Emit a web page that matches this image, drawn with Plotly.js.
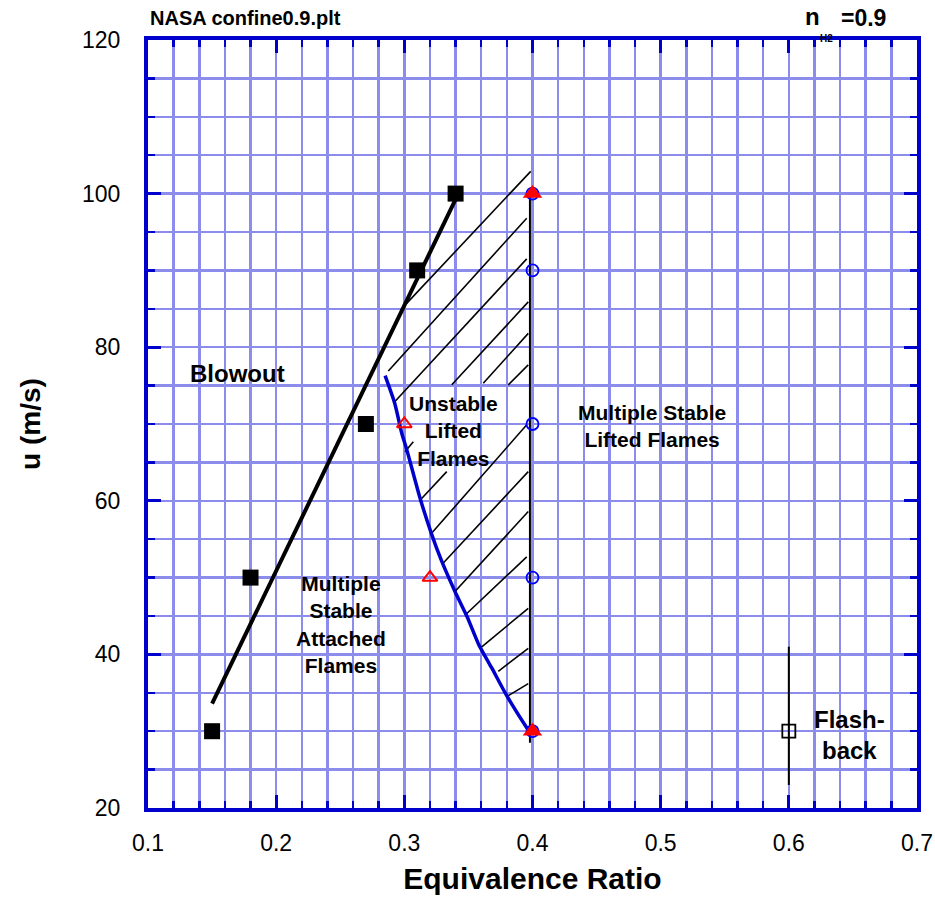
<!DOCTYPE html>
<html>
<head>
<meta charset="utf-8">
<script src="https://cdn.plot.ly/plotly-3.0.1.min.js"></script>
<style>html,body{margin:0;padding:0;background:#fff;}#chart{width:935px;height:923px;}</style>
</head>
<body>
<div id="chart"></div>
<script>
// Blowout measurements (filled black squares)
const blowoutPhi = [0.15, 0.18, 0.27, 0.31, 0.34];
const blowoutU = [30, 50, 70, 90, 100];
// Blowout boundary fit line
const blowFitPhi = [0.150, 0.245, 0.341];
const blowFitU = [33.6, 66.4, 99.6];
// Lift-off boundary (blue curve)
const liftPhi = [0.285, 0.2925, 0.298, 0.302, 0.312, 0.321, 0.329, 0.3395, 0.349, 0.358, 0.368, 0.380, 0.3965, 0.399];
const liftU = [76.3, 72.7, 68.8, 66.6, 60.5, 55.8, 52.2, 48.2, 44.9, 41.3, 38.3, 34.6, 30.2, 29.6];
// Stable lifted flame points (open blue circles)
const liftedPhi = [0.4, 0.4, 0.4, 0.4, 0.4];
const liftedU = [100, 90, 70, 50, 30];
// Red filled triangles
const redFillPhi = [0.4, 0.4];
const redFillU = [100, 30];
// Red open triangles
const redOpenPhi = [0.30, 0.32];
const redOpenU = [70, 50];
// Right boundary of the unstable region
const edgePhi = [0.398, 0.398];
const edgeU = [100.5, 28.5];
// Hatching segments of the unstable lifted flame region
const hatchPhi0 = [0.3986, 0.3955, 0.3955, 0.3967, 0.3967, 0.3967, 0.3070, 0.3955, 0.3331, 0.3967, 0.3967, 0.3955, 0.3967, 0.3967, 0.3967];
const hatchU0 = [102.9, 96.8, 91.5, 85.9, 81.8, 77.7, 67.7, 69.9, 63.8, 63.8, 58.6, 52.7, 46.0, 40.8, 36.2];
const hatchPhi1 = [0.3018, 0.2875, 0.2914, 0.3370, 0.3616, 0.3811, 0.3005, 0.3214, 0.3135, 0.3304, 0.3395, 0.3473, 0.3590, 0.3733, 0.3799];
const hatchU1 = [85.7, 76.9, 72.7, 75.1, 75.3, 75.1, 66.4, 55.8, 60.3, 51.9, 48.2, 45.1, 40.8, 37.8, 34.5];
// Flashback point and its bar
const flashPhi = [0.6];
const flashU = [30];
const flashBarPhi = [0.6, 0.6];
const flashBarU = [41, 23];

const hx = [], hy = [];
for (let i = 0; i < hatchPhi0.length; i++) {
  hx.push(hatchPhi0[i], hatchPhi1[i], null);
  hy.push(hatchU0[i], hatchU1[i], null);
}

const FONT = 'Liberation Sans, Arial, Helvetica, sans-serif';
const BLUE = '#0000cc';
const GRID = '#8c8cec';

const traces = [
  {x: hx, y: hy, mode: 'lines', line: {color: '#000', width: 1.6}, hoverinfo: 'skip'},
  {x: edgePhi, y: edgeU, mode: 'lines', line: {color: '#000', width: 2}},
  {x: blowFitPhi, y: blowFitU, mode: 'lines', line: {color: '#000', width: 4}},
  {x: liftPhi, y: liftU, mode: 'lines', line: {color: BLUE, width: 3.5, shape: 'spline', smoothing: 0.6}},
  {x: flashBarPhi, y: flashBarU, mode: 'lines', line: {color: '#000', width: 2}},
  {x: blowoutPhi, y: blowoutU, mode: 'markers', marker: {symbol: 'square', size: 16, color: '#000'}},
  {x: liftedPhi, y: liftedU, mode: 'markers', marker: {symbol: 'circle-open', size: 12, color: '#0000ff', line: {width: 1.8, color: '#0000ff'}}},
  {x: redFillPhi, y: redFillU, mode: 'markers', marker: {symbol: 'triangle-up', size: 17, color: '#ff0000'}},
  {x: redOpenPhi, y: redOpenU, mode: 'markers', marker: {symbol: 'triangle-up-open', size: 13, color: '#ff0000', line: {width: 2, color: '#ff0000'}}},
  {x: flashPhi, y: flashU, mode: 'markers', marker: {symbol: 'square-open', size: 13, color: '#000', line: {width: 1.8, color: '#000'}}}
];

function ann(text, x, y, size, extra) {
  return Object.assign({text: text, x: x, y: y, xref: 'x', yref: 'y', showarrow: false,
    font: {family: FONT, size: size, color: '#000', weight: 'bold'}, align: 'center'}, extra || {});
}

const layout = {
  width: 935, height: 923,
  margin: {l: 148, r: 18, t: 40, b: 115},
  paper_bgcolor: '#fff', plot_bgcolor: '#fff',
  showlegend: false,
  xaxis: {
    range: [0.1, 0.7], dtick: 0.1, tick0: 0.1,
    ticks: 'inside', ticklen: 13, tickwidth: 3, tickcolor: BLUE,
    showline: true, linecolor: BLUE, linewidth: 4, mirror: 'ticks',
    showgrid: true, gridcolor: GRID, gridwidth: 2.5, zeroline: false,
    minor: {dtick: 0.02, tick0: 0.1, ticks: 'inside', ticklen: 7, tickwidth: 2.5, tickcolor: BLUE, showgrid: true, gridcolor: GRID, gridwidth: 2.5},
    tickfont: {family: FONT, size: 23, color: '#000'},
    ticklabelstandoff: 11,
    title: {text: 'Equivalence Ratio', font: {family: FONT, size: 30, color: '#000', weight: 'bold'}, standoff: 14}
  },
  yaxis: {
    range: [20, 120], dtick: 20, tick0: 20,
    ticks: 'inside', ticklen: 13, tickwidth: 3, tickcolor: BLUE,
    showline: true, linecolor: BLUE, linewidth: 4, mirror: 'ticks',
    showgrid: true, gridcolor: GRID, gridwidth: 2.5, zeroline: false,
    minor: {dtick: 5, tick0: 20, ticks: 'inside', ticklen: 7, tickwidth: 2.5, tickcolor: BLUE, showgrid: true, gridcolor: GRID, gridwidth: 2.5},
    tickfont: {family: FONT, size: 23, color: '#000'},
    ticklabelstandoff: 19,
    title: {text: 'u (m/s)', font: {family: FONT, size: 28, color: '#000', weight: 'bold'}, standoff: 34}
  },
  annotations: [
    ann('Blowout', 0.17, 76.6, 24),
    ann('Unstable<br>Lifted<br>Flames', 0.338, 69.1, 21),
    ann('Multiple Stable<br>Lifted Flames', 0.493, 69.7, 21),
    ann('Multiple<br>Stable<br>Attached<br>Flames', 0.2506, 43.9, 21),
    ann('Flash-<br>back', 0.647, 29.5, 24),
    {text: 'NASA confine0.9.plt', xref: 'paper', yref: 'paper', x: 0, y: 1.0286, xanchor: 'left', yanchor: 'middle', showarrow: false,
     font: {family: FONT, size: 20, color: '#000', weight: 'bold'}},
    {text: 'n', xref: 'paper', yref: 'paper', x: 0.852, y: 1.031, xanchor: 'left', yanchor: 'middle', showarrow: false,
     font: {family: FONT, size: 24, color: '#000', weight: 'bold'}},
    {text: 'H2', xref: 'paper', yref: 'paper', x: 0.882, y: 1.002, xanchor: 'center', yanchor: 'middle', showarrow: false,
     font: {family: FONT, size: 10, color: '#000', weight: 'bold'}},
    {text: '=0.9', xref: 'paper', yref: 'paper', x: 0.899, y: 1.0286, xanchor: 'left', yanchor: 'middle', showarrow: false,
     font: {family: FONT, size: 23, color: '#000', weight: 'bold'}}
  ]
};

Plotly.newPlot('chart', traces, layout, {displayModeBar: false, staticPlot: true});
</script>
</body>
</html>
